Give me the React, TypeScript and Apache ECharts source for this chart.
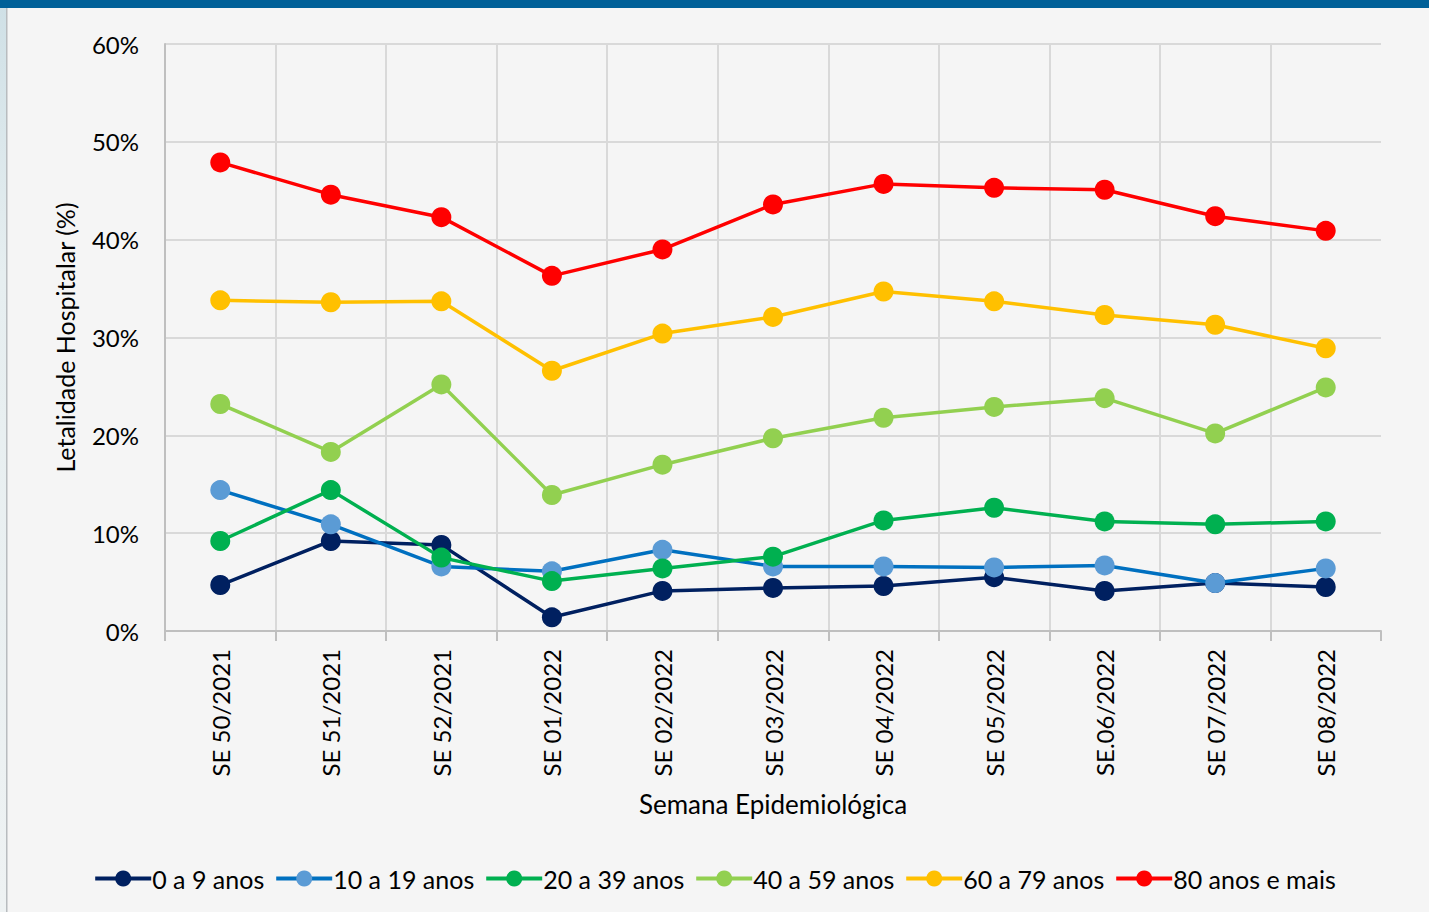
import React, { useEffect, useRef } from "react";
import * as echarts from "echarts";

const categories = ["SE 50/2021", "SE 51/2021", "SE 52/2021", "SE 01/2022", "SE 02/2022", "SE 03/2022", "SE 04/2022", "SE 05/2022", "SE.06/2022", "SE 07/2022", "SE 08/2022"];
const yTicks = [0, 10, 20, 30, 40, 50, 60];

const seriesNames = ["0 a 9 anos", "10 a 19 anos", "20 a 39 anos", "40 a 59 anos", "60 a 79 anos", "80 anos e mais"];
const age0to9 = [4.7, 9.2, 8.8, 1.4, 4.1, 4.4, 4.6, 5.5, 4.1, 4.9, 4.5];
const age10to19 = [14.4, 10.9, 6.6, 6.1, 8.3, 6.6, 6.6, 6.5, 6.7, 4.9, 6.4];
const age20to39 = [9.2, 14.4, 7.5, 5.1, 6.4, 7.6, 11.3, 12.6, 11.2, 10.9, 11.2];
const age40to59 = [23.2, 18.3, 25.2, 13.9, 17.0, 19.7, 21.8, 22.9, 23.8, 20.2, 24.9];
const age60to79 = [33.8, 33.6, 33.7, 26.6, 30.4, 32.1, 34.7, 33.7, 32.3, 31.3, 28.9];
const age80plus = [47.9, 44.6, 42.3, 36.3, 39.0, 43.6, 45.7, 45.3, 45.1, 42.4, 40.9];

const lineColors = ["#002060", "#0070c0", "#00b050", "#92d050", "#ffc000", "#ff0000"];
const markerColors = ["#002060", "#5b9bd5", "#00b050", "#92d050", "#ffc000", "#ff0000"];

export default function App() {
  const ref = useRef<HTMLDivElement>(null);
  useEffect(() => {
    document.body.style.margin = "0";
    const chart = echarts.init(ref.current!, null, { renderer: "svg" });
    const data = [age0to9, age10to19, age20to39, age40to59, age60to79, age80plus];
    const font = "Lato, 'Open Sans', sans-serif";
    chart.setOption({
      animation: false,
      backgroundColor: "#f5f5f5",
      textStyle: { fontFamily: font },
      graphic: [
        { type: "rect", left: 0, top: 0, shape: { width: 1429, height: 8 }, style: { fill: "#006098" }, z: 10 },
        { type: "rect", left: 0, top: 0, shape: { width: 6, height: 912 }, style: { fill: { type: "linear", x: 0, y: 0, x2: 0, y2: 1, colorStops: [{ offset: 0, color: "#cfe0e6" }, { offset: 0.3, color: "#e6eef0" }, { offset: 1, color: "#eef2f3" }] } }, z: 9 },
        { type: "rect", left: 6, top: 0, shape: { width: 1.5, height: 912 }, style: { fill: "#b8bcbf" }, z: 9 },
      ],
      grid: { left: 165, right: 48, top: 44, bottom: 281, containLabel: false },
      legend: {
        bottom: 16,
        left: "center",
        itemWidth: 56,
        itemHeight: 20,
        itemGap: 10,
        lineStyle: { width: 4 },
        textStyle: { fontSize: 25, color: "#000", fontFamily: font, padding: [0, 0, 0, -4] },
        data: seriesNames,
      },
      xAxis: {
        type: "category",
        data: categories,
        boundaryGap: true,
        name: "Semana Epidemiológica",
        nameLocation: "middle",
        nameGap: 160,
        nameTextStyle: { fontSize: 26, color: "#000", fontFamily: font },
        axisLine: { show: true, lineStyle: { color: "#bfbfbf", width: 2 } },
        axisTick: { show: true, length: 10, alignWithLabel: false, lineStyle: { color: "#bfbfbf", width: 2 } },
        axisLabel: { rotate: 90, fontSize: 24, color: "#000", margin: 18, fontFamily: font },
        splitLine: { show: true, showMinLine: false, showMaxLine: false, lineStyle: { color: "#d9d9d9", width: 2 } },
      },
      yAxis: {
        type: "value",
        min: 0,
        max: 60,
        interval: 10,
        name: "Letalidade Hospitalar (%)",
        nameLocation: "middle",
        nameGap: 88,
        nameTextStyle: { fontSize: 25, color: "#000", fontFamily: font },
        axisLine: { show: true, lineStyle: { color: "#bfbfbf", width: 2 } },
        axisTick: { show: false },
        axisLabel: { fontSize: 24, color: "#000", margin: 26, fontFamily: font, formatter: (v: number) => (yTicks.includes(v) ? v + "%" : "") },
        splitLine: { show: true, lineStyle: { color: "#d9d9d9", width: 2 } },
      },
      series: seriesNames.map((name, i) => ({
        name,
        type: "line",
        data: data[i],
        symbol: "circle",
        symbolSize: 20,
        lineStyle: { color: lineColors[i], width: 3.5 },
        itemStyle: { color: markerColors[i] },
        z: 2 + i,
      })),
    });
    return () => chart.dispose();
  }, []);
  return <div ref={ref} style={{ position: "absolute", left: 0, top: 0, width: 1429, height: 912 }} />;
}
